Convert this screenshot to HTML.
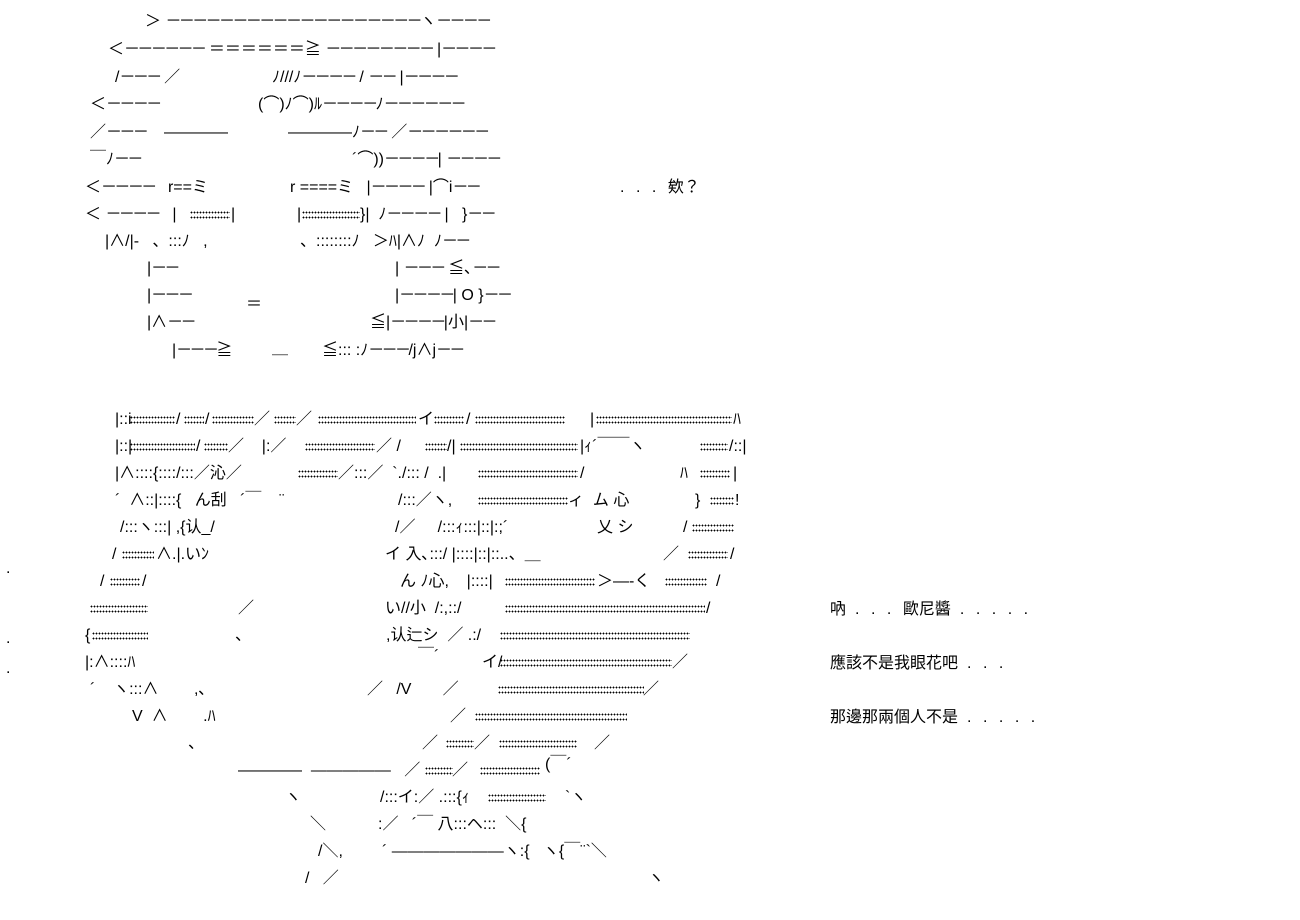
<!DOCTYPE html>
<html><head><meta charset="utf-8"><style>
html,body{margin:0;padding:0;background:#fff;}
body{width:1300px;height:920px;position:relative;overflow:hidden;font-family:"Liberation Sans","Noto Sans CJK JP",sans-serif;font-size:16px;color:#000;}
.t{position:absolute;white-space:pre;line-height:18px;}
.m{letter-spacing:-2.6px;}
.p{letter-spacing:11.5px;padding-left:9px;}
.d{position:absolute;height:11px;background-image:radial-gradient(circle,#000 0.75px,transparent 1px);background-size:3px 5px;}
</style></head><body>
<div class="t" style="left:145px;top:13px">＞ <span class="m">－－－－－－－－－－－－－－－－－－－</span>ヽ<span class="m">－－－－</span></div>
<div class="t" style="left:108px;top:41px">＜<span class="m">－－－－－－</span> ＝＝＝＝＝＝≧ <span class="m">－－－－－－－－</span> |<span class="m">－－－－</span></div>
<div class="t" style="left:115px;top:69px">/<span class="m">－－－</span> ／</div>
<div class="t" style="left:272px;top:69px">ﾉ///ﾉ<span class="m">－－－－</span> / <span class="m">－－</span> |<span class="m">－－－－</span></div>
<div class="t" style="left:90px;top:96px">＜<span class="m">－－－－</span></div>
<div class="t" style="left:258px;top:96px">(⌒)ﾉ⌒)ﾙ<span class="m">－－－－</span>ﾉ<span class="m">－－－－－－</span></div>
<div class="t" style="left:90px;top:124px">／<span class="m">－－－</span>&nbsp;&nbsp;&nbsp; ――――</div>
<div class="t" style="left:288px;top:124px">――――ﾉ<span class="m">－－</span> ／<span class="m">－－－－－－</span></div>
<div class="t" style="left:90px;top:151px">￣ﾉ<span class="m">－－</span></div>
<div class="t" style="left:352px;top:151px">´⌒))<span class="m">－－－－</span>| <span class="m">－－－－</span></div>
<div class="t" style="left:85px;top:179px">＜<span class="m">－－－－</span>&nbsp;&nbsp; r==ミ</div>
<div class="t" style="left:290px;top:179px">r ====ミ&nbsp;&nbsp; |<span class="m">－－－－</span> |⌒i<span class="m">－－</span></div>
<div class="t" style="left:85px;top:206px">＜ <span class="m">－－－－</span>&nbsp;&nbsp; |</div>
<div class="t" style="left:231px;top:206px">|</div>
<div class="t" style="left:297px;top:206px">|</div>
<div class="t" style="left:360px;top:206px">}|&nbsp;&nbsp;ﾉ<span class="m">－－－－</span> |&nbsp;&nbsp; }<span class="m">－－</span></div>
<div class="t" style="left:105px;top:233px">|∧/|-&nbsp;&nbsp; 、:::ﾉ&nbsp;&nbsp; ,</div>
<div class="t" style="left:300px;top:233px">、::::::::ﾉ&nbsp;&nbsp; ＞ﾊ|∧ﾉ&nbsp; ﾉ<span class="m">－－</span></div>
<div class="t" style="left:147px;top:260px">|<span class="m">－－</span></div>
<div class="t" style="left:395px;top:260px">| <span class="m">－－－</span> ≦､<span class="m">－－</span></div>
<div class="t" style="left:147px;top:287px">|<span class="m">－－－</span></div>
<div class="t" style="left:246px;top:296px">＝</div>
<div class="t" style="left:395px;top:287px">|<span class="m">－－－－</span>| O }<span class="m">－－</span></div>
<div class="t" style="left:147px;top:314px">|∧<span class="m">－－</span></div>
<div class="t" style="left:370px;top:314px">≦|<span class="m">－－－－</span>|小|<span class="m">－－</span></div>
<div class="t" style="left:172px;top:342px">|<span class="m">－－－</span>≧</div>
<div class="t" style="left:272px;top:340px">＿</div>
<div class="t" style="left:322px;top:342px">≦::: :ﾉ<span class="m">－－－</span>/j∧j<span class="m">－－</span></div>
<div class="d" style="left:190px;top:210px;width:40px"></div>
<div class="d" style="left:302px;top:210px;width:58px"></div>
<div class="t" style="left:611px;top:179px"><span class="p">...</span>欸？</div>

<!-- bottom art -->
<div class="t" style="left:115px;top:411px">|::i</div><div class="d" style="left:130px;top:415px;width:45px"></div>
<div class="t" style="left:176px;top:411px">/</div><div class="d" style="left:184px;top:415px;width:20px"></div>
<div class="t" style="left:205px;top:411px">/</div><div class="d" style="left:212px;top:415px;width:42px"></div>
<div class="t" style="left:254px;top:411px">／</div><div class="d" style="left:274px;top:415px;width:22px"></div>
<div class="t" style="left:296px;top:411px">／</div><div class="d" style="left:318px;top:415px;width:98px"></div>
<div class="t" style="left:418px;top:411px">イ</div><div class="d" style="left:434px;top:415px;width:30px"></div>
<div class="t" style="left:466px;top:411px">/</div><div class="d" style="left:475px;top:415px;width:90px"></div>
<div class="t" style="left:590px;top:411px">|</div><div class="d" style="left:596px;top:415px;width:136px"></div>
<div class="t" style="left:733px;top:411px">ﾊ</div>

<div class="t" style="left:115px;top:438px">|::|</div><div class="d" style="left:130px;top:442px;width:65px"></div>
<div class="t" style="left:196px;top:438px">/</div><div class="d" style="left:204px;top:442px;width:24px"></div>
<div class="t" style="left:228px;top:438px">／&nbsp;&nbsp;&nbsp; |:／</div><div class="d" style="left:305px;top:442px;width:70px"></div>
<div class="t" style="left:376px;top:438px">／ /</div><div class="d" style="left:425px;top:442px;width:22px"></div>
<div class="t" style="left:447px;top:438px">/|</div><div class="d" style="left:460px;top:442px;width:118px"></div>
<div class="t" style="left:580px;top:438px">|ｨ´￣￣ヽ</div><div class="d" style="left:700px;top:442px;width:28px"></div>
<div class="t" style="left:729px;top:438px">/::|</div>

<div class="t" style="left:115px;top:465px">|∧::::{::::/:::／沁／</div><div class="d" style="left:298px;top:469px;width:40px"></div>
<div class="t" style="left:338px;top:465px">／:::／&nbsp; `./::: /&nbsp; .|</div><div class="d" style="left:478px;top:469px;width:100px"></div>
<div class="t" style="left:580px;top:465px">/</div>
<div class="t" style="left:680px;top:465px">ﾊ</div><div class="d" style="left:700px;top:469px;width:30px"></div><div class="t" style="left:733px;top:465px">|</div>

<div class="t" style="left:115px;top:492px">´&nbsp; ∧::|::::{&nbsp;&nbsp; ん刮&nbsp;&nbsp; ´￣&nbsp;&nbsp;&nbsp; ¨</div>
<div class="t" style="left:398px;top:492px">/:::／ヽ,</div><div class="d" style="left:478px;top:496px;width:90px"></div>
<div class="t" style="left:568px;top:492px">ィ&nbsp; ム 心</div>
<div class="t" style="left:695px;top:492px">}</div><div class="d" style="left:710px;top:496px;width:24px"></div><div class="t" style="left:735px;top:492px">!</div>

<div class="t" style="left:120px;top:519px">/:::ヽ:::| ,{认_/</div>
<div class="t" style="left:395px;top:519px">/／&nbsp;&nbsp;&nbsp;&nbsp; /:::ｨ:::|::|:;´</div>
<div class="t" style="left:597px;top:519px">乂 シ</div>
<div class="t" style="left:683px;top:519px">/</div><div class="d" style="left:692px;top:523px;width:42px"></div>

<div class="t" style="left:112px;top:546px">/</div><div class="d" style="left:122px;top:550px;width:32px"></div>
<div class="t" style="left:156px;top:546px">∧.|.いﾝ</div>
<div class="t" style="left:385px;top:546px">イ 入､:::/ |::::|::|::..、＿</div>
<div class="t" style="left:663px;top:546px">／</div><div class="d" style="left:688px;top:550px;width:40px"></div><div class="t" style="left:730px;top:546px">/</div>

<div class="t" style="left:100px;top:573px">/</div><div class="d" style="left:110px;top:577px;width:30px"></div><div class="t" style="left:142px;top:573px">/</div>
<div class="t" style="left:400px;top:573px">ん ﾉ心,&nbsp;&nbsp;&nbsp; |::::|</div><div class="d" style="left:505px;top:577px;width:90px"></div>
<div class="t" style="left:597px;top:573px">＞―‐く</div><div class="d" style="left:665px;top:577px;width:42px"></div><div class="t" style="left:716px;top:573px">/</div>

<div class="d" style="left:90px;top:604px;width:58px"></div>
<div class="t" style="left:238px;top:600px">／</div>
<div class="t" style="left:385px;top:600px">い//小&nbsp; /:,::/</div><div class="d" style="left:505px;top:604px;width:200px"></div><div class="t" style="left:706px;top:600px">/</div>

<div class="t" style="left:85px;top:627px">{</div><div class="d" style="left:92px;top:631px;width:56px"></div>
<div class="t" style="left:235px;top:627px">、</div>
<div class="t" style="left:386px;top:627px">,认辷シ&nbsp; ／ .:/</div><div class="d" style="left:500px;top:631px;width:190px"></div>

<div class="t" style="left:85px;top:654px">|:∧::::ﾊ</div>
<div class="t" style="left:418px;top:648px">￣´</div>
<div class="t" style="left:482px;top:654px">イ/</div><div class="d" style="left:500px;top:658px;width:172px"></div><div class="t" style="left:672px;top:654px">／</div>

<div class="t" style="left:90px;top:681px">´&nbsp;&nbsp;&nbsp; ヽ:::∧&nbsp;&nbsp;&nbsp;&nbsp;&nbsp;&nbsp;&nbsp; ,､</div>
<div class="t" style="left:367px;top:681px">／&nbsp;&nbsp; /V&nbsp;&nbsp;&nbsp;&nbsp;&nbsp;&nbsp; ／</div><div class="d" style="left:498px;top:685px;width:146px"></div><div class="t" style="left:643px;top:681px">／</div>

<div class="t" style="left:132px;top:708px">V&nbsp; ∧&nbsp;&nbsp;&nbsp;&nbsp;&nbsp;&nbsp;&nbsp; .ﾊ</div>
<div class="t" style="left:450px;top:708px">／</div><div class="d" style="left:475px;top:712px;width:152px"></div>

<div class="t" style="left:188px;top:735px">、</div>
<div class="t" style="left:422px;top:735px">／</div><div class="d" style="left:446px;top:739px;width:28px"></div>
<div class="t" style="left:474px;top:735px">／</div><div class="d" style="left:499px;top:739px;width:78px"></div><div class="t" style="left:594px;top:735px">／</div>

<div class="t" style="left:238px;top:762px">――――&nbsp; ―――――&nbsp;&nbsp; ／</div><div class="d" style="left:425px;top:766px;width:28px"></div>
<div class="t" style="left:452px;top:762px">／</div><div class="d" style="left:480px;top:766px;width:60px"></div><div class="t" style="left:545px;top:756px">(￣´</div>

<div class="t" style="left:285px;top:789px">ヽ</div>
<div class="t" style="left:380px;top:789px">/:::イ:／ .:::{ｨ</div><div class="d" style="left:488px;top:793px;width:58px"></div><div class="t" style="left:565px;top:789px">`ヽ</div>

<div class="t" style="left:310px;top:816px">＼</div>
<div class="t" style="left:378px;top:816px">:／&nbsp;&nbsp; ´￣ 八:::ヘ:::&nbsp; ＼{</div>

<div class="t" style="left:318px;top:843px">/＼,</div>
<div class="t" style="left:382px;top:843px">´ ―――――――ヽ:{&nbsp;&nbsp; ヽ{￣¨`＼</div>

<div class="t" style="left:305px;top:870px">/&nbsp;&nbsp; ／</div>
<div class="t" style="left:648px;top:870px">ヽ</div>

<div class="t" style="left:6px;top:560px">.</div>
<div class="t" style="left:6px;top:630px">.</div>
<div class="t" style="left:6px;top:660px">.</div>

<div class="t" style="left:830px;top:601px">吶<span class="p">...</span>歐尼醬<span class="p">.....</span></div>
<div class="t" style="left:830px;top:655px">應該不是我眼花吧<span class="p">...</span></div>
<div class="t" style="left:830px;top:709px">那邊那兩個人不是<span class="p">.....</span></div>
</body></html>
